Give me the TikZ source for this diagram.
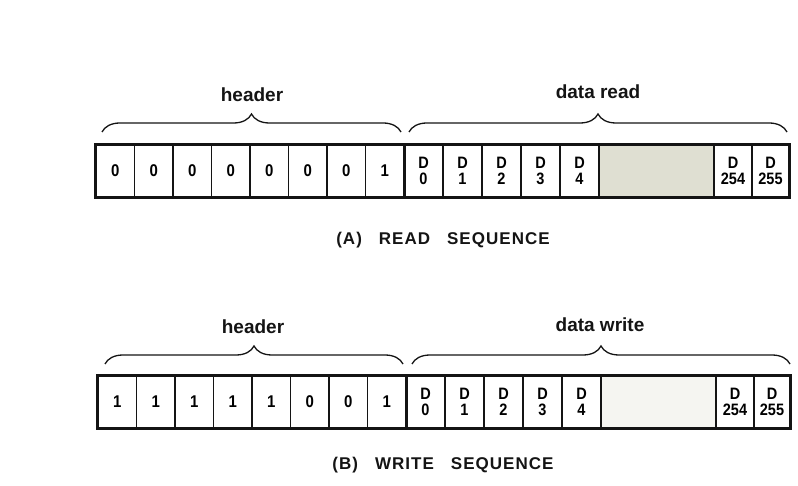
\documentclass[tikz,border=0pt]{standalone}
\usepackage{fontspec}
\setmainfont{Liberation Sans}
\newfontfamily\cellfont[FakeStretch=0.88]{Liberation Sans}
\newfontfamily\titlefont[LetterSpace=6]{Liberation Sans}
\definecolor{inkcol}{HTML}{141414}
\definecolor{shadecol}{HTML}{DFDFD2}
\definecolor{fadecol}{HTML}{F5F5F1}
\usetikzlibrary{decorations.pathreplacing}

\tikzset{
  bitcell/.style={draw=inkcol, line width=1.2pt, fill=white, minimum width=38.5pt,
    minimum height=52pt, inner sep=0pt, font=\cellfont\bfseries\fontsize{17}{17}\selectfont},
  datacell/.style={bitcell, minimum width=39pt, align=center,
    font=\cellfont\bfseries\fontsize{16.5}{16}\selectfont},
  framebox/.style={draw=inkcol, line width=3pt},
  seqbrace/.style={draw=inkcol, line width=1.3pt,
    decorate, decoration={brace, amplitude=18pt}},
  bracelabel/.style={inkcol, font=\bfseries\fontsize{19}{22}\selectfont},
  titlelabel/.style={inkcol, font=\titlefont\bfseries\fontsize{17}{20}\selectfont}
}

\begin{document}
\begin{tikzpicture}[x=1pt, y=1pt]
\useasboundingbox (0,0) rectangle (798,485);

% === TOP ROW: (A) read sequence ===
\begin{scope}[shift={(0,288)}]
  \foreach \bit [count=\i from 0] in {0,0,0,0,0,0,0,1}
    \node[bitcell] (ah\i) at ({115.25+38.5*\i},26) {\bit};
  \foreach \n in {0,...,4}
    \node[datacell] (ad\n) at ({423.5+39*\n},26) {D\\\n};
  \node[datacell, minimum width=115pt, fill=shadecol] (agap) at (656.5,26) {};
  \node[datacell, minimum width=38pt] (ad254) at (733,26) {D\\254};
  \node[datacell, minimum width=37pt] (ad255) at (770.5,26) {D\\255};

  \draw[framebox] (ah0.south west) rectangle (ad255.north east);
  \draw[framebox] (ah7.south east) -- (ah7.north east);

  \coordinate (ahl) at (102,65);
  \coordinate (ahr) at (401,65);
  \coordinate (adl) at (409,65);
  \coordinate (adr) at (787,65);
  \draw[seqbrace] (ahl) -- (ahr);
  \draw[seqbrace] (adl) -- (adr);

  \node[bracelabel] (ahlab) at (252,102) {header};
  \node[bracelabel] (adlab) at (598,105) {data read};
  \node[titlelabel] (atitle) at (443,-43) {(A)\quad READ\quad SEQUENCE};
\end{scope}

% === BOTTOM ROW: (B) write sequence ===
\begin{scope}[shift={(0,57)}]
  \foreach \bit [count=\i from 0] in {1,1,1,1,1,0,0,1}
    \node[bitcell] (bh\i) at ({117.25+38.5*\i},26) {\bit};
  \foreach \n in {0,...,4}
    \node[datacell] (bd\n) at ({425.5+39*\n},26) {D\\\n};
  \node[datacell, minimum width=115pt, fill=fadecol] (bgap) at (658.5,26) {};
  \node[datacell, minimum width=38pt] (bd254) at (735,26) {D\\254};
  \node[datacell, minimum width=36pt] (bd255) at (772,26) {D\\255};

  \draw[framebox] (bh0.south west) rectangle (bd255.north east);
  \draw[framebox] (bh7.south east) -- (bh7.north east);

  \coordinate (bhl) at (105,64);
  \coordinate (bhr) at (403,64);
  \coordinate (bdl) at (412,64);
  \coordinate (bdr) at (790,64);
  \draw[seqbrace] (bhl) -- (bhr);
  \draw[seqbrace] (bdl) -- (bdr);

  \node[bracelabel] (bhlab) at (253,101) {header};
  \node[bracelabel] (bdlab) at (600,103) {data write};
  \node[titlelabel] (btitle) at (443,-37) {(B)\quad WRITE\quad SEQUENCE};
\end{scope}

\end{tikzpicture}
\end{document}
